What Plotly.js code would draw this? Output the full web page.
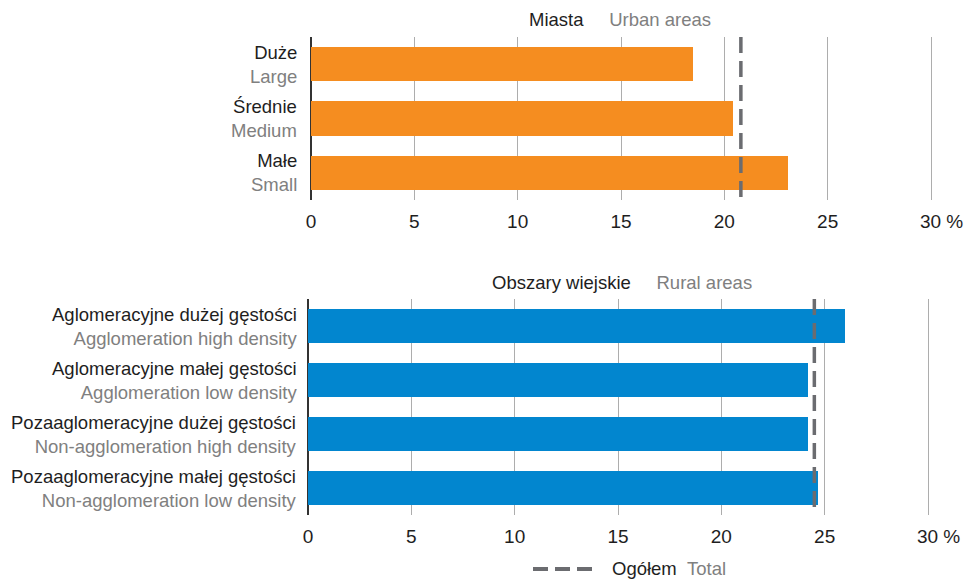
<!DOCTYPE html>
<html><head><meta charset="utf-8">
<script src="https://cdn.plot.ly/plotly-3.0.1.min.js"></script>
<style>html,body{margin:0;padding:0;background:#fff}#chart{width:965px;height:580px}</style>
</head><body><div id="chart"></div>
<script>
// ---- data ----
const urbanTitle = ['Miasta', 'Urban areas'];
const urbanCatsPl = ['Duże', 'Średnie', 'Małe'];
const urbanCatsEn = ['Large', 'Medium', 'Small'];
const urbanValues = [18.5, 20.4, 23.1];
const urbanTotal = 20.8;

const ruralTitle = ['Obszary wiejskie', 'Rural areas'];
const ruralCatsPl = ['Aglomeracyjne dużej gęstości', 'Aglomeracyjne małej gęstości', 'Pozaaglomeracyjne dużej gęstości', 'Pozaaglomeracyjne małej gęstości'];
const ruralCatsEn = ['Agglomeration high density', 'Agglomeration low density', 'Non-agglomeration high density', 'Non-agglomeration low density'];
const ruralValues = [26.0, 24.2, 24.2, 24.7];
const ruralTotal = 24.5;

const xTickVals = [0, 5, 10, 15, 20, 25, 30];
const xTickText = ['0', '5', '10', '15', '20', '25', '30 %'];
const legendLabel = ['Ogółem', 'Total'];

// ---- style ----
const W = 965, H = 580;
const FONT = 'Liberation Sans, Arial, Helvetica, sans-serif';
const FS = 18.5;
const DARK = '#1e1e1e', GRAY = '#808080';
const ORANGE = '#F58D20', BLUE = '#0286CF', DASH = '#6b6c70';
const px = v => v / W, py = v => 1 - v / H;
const NB = '\u00a0';
const tickText = xTickText.map((t, i) => i === xTickText.length - 1 ? NB.repeat(4) + t : t);

const xMax = 30.1, unit = 20.667;
function xaxisDef(x0, anchor) {
  return {
    domain: [px(x0), px(x0 + xMax * unit)], range: [0, xMax], anchor: anchor,
    tickmode: 'array', tickvals: xTickVals, ticktext: tickText,
    showgrid: true, gridcolor: '#adadad', gridwidth: 1,
    zeroline: true, zerolinecolor: '#333333', zerolinewidth: 1.5,
    showline: false, ticks: '', ticklabelstandoff: 8,
    tickfont: {family: FONT, size: 19, color: DARK}, fixedrange: true
  };
}
function yaxisDef(top, bottom, n, anchor) {
  return {
    domain: [py(bottom), py(top)], range: [n - 0.5, -0.5], anchor: anchor,
    showticklabels: false, showgrid: false, zeroline: false, showline: false, ticks: '', fixedrange: true
  };
}

const idxU = urbanValues.map((_, i) => i);
const idxR = ruralValues.map((_, i) => i);

const traces = [
  {type: 'bar', orientation: 'h', x: urbanValues, y: idxU, xaxis: 'x', yaxis: 'y',
   marker: {color: ORANGE}, width: 0.63, hoverinfo: 'x'},
  {type: 'scatter', mode: 'lines', x: [urbanTotal, urbanTotal], y: [-0.5, urbanValues.length - 0.5],
   xaxis: 'x', yaxis: 'y', line: {color: DASH, width: 3.5, dash: '16px,8px'}, hoverinfo: 'x'},
  {type: 'bar', orientation: 'h', x: ruralValues, y: idxR, xaxis: 'x2', yaxis: 'y2',
   marker: {color: BLUE}, width: 0.63, hoverinfo: 'x'},
  {type: 'scatter', mode: 'lines', x: [ruralTotal, ruralTotal], y: [-0.5, ruralValues.length - 0.5],
   xaxis: 'x2', yaxis: 'y2', line: {color: DASH, width: 3.5, dash: '16px,8px'}, hoverinfo: 'x'}
];

const annotations = [];
function catLabels(pl, en, yref, xRight) {
  pl.forEach((t, i) => {
    annotations.push({text: t + '<br><span style="color:' + GRAY + '">' + en[i] + '</span>',
      xref: 'paper', yref: yref, x: px(xRight), y: i, xanchor: 'right', yanchor: 'middle', align: 'right',
      showarrow: false, font: {family: FONT, size: FS, color: DARK}});
  });
}
catLabels(urbanCatsPl, urbanCatsEn, 'y', 299);
catLabels(ruralCatsPl, ruralCatsEn, 'y2', 299);

function titleAnn(t, xc, yc) {
  annotations.push({text: t[0] + NB.repeat(5) + '<span style="color:' + GRAY + '">' + t[1] + '</span>',
    xref: 'paper', yref: 'paper', x: px(xc), y: py(yc), xanchor: 'center', yanchor: 'middle',
    showarrow: false, font: {family: FONT, size: FS, color: DARK}});
}
titleAnn(urbanTitle, 620, 20);
titleAnn(ruralTitle, 621.5, 283);

// legend (manual key)
annotations.push({text: legendLabel[0] + NB.repeat(2) + '<span style="color:' + GRAY + '">' + legendLabel[1] + '</span>',
  xref: 'paper', yref: 'paper', x: px(610), y: py(568), xanchor: 'left', yanchor: 'middle',
  showarrow: false, font: {family: FONT, size: FS, color: DARK}});
const shapes = [{type: 'line', xref: 'paper', yref: 'paper', x0: px(533), x1: px(594), y0: py(569), y1: py(569),
  line: {color: DASH, width: 4, dash: '15px,7px'}}];

const layout = {
  width: W, height: H, margin: {l: 0, r: 0, t: 0, b: 0},
  paper_bgcolor: '#ffffff', plot_bgcolor: 'rgba(0,0,0,0)',
  showlegend: false, bargap: 0,
  font: {family: FONT, size: FS, color: DARK},
  xaxis: xaxisDef(311, 'y'), yaxis: yaxisDef(37, 200, urbanValues.length, 'x'),
  xaxis2: xaxisDef(308, 'y2'), yaxis2: yaxisDef(299, 515, ruralValues.length, 'x2'),
  annotations: annotations, shapes: shapes
};

Plotly.newPlot('chart', traces, layout, {displayModeBar: false, staticPlot: true});
</script>
</body></html>
